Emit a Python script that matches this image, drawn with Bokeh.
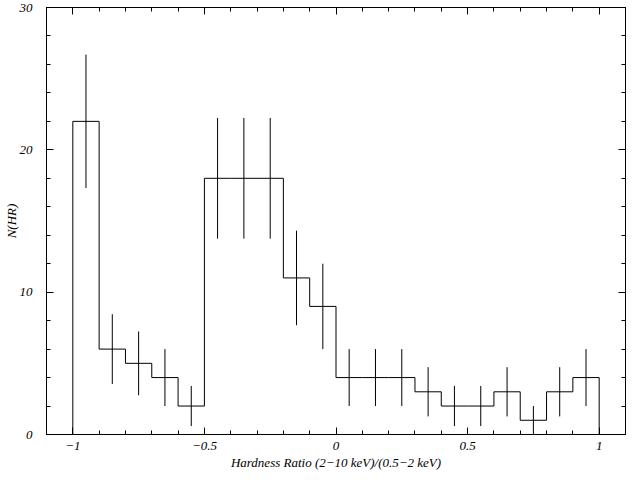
from bokeh.plotting import figure
from bokeh.models import LinearAxis, FixedTicker, Range1d, CustomJSTickFormatter
from bokeh.embed import file_html
from bokeh.resources import INLINE

# Data
hr_centers = [-0.95, -0.85, -0.75, -0.65, -0.55, -0.45, -0.35, -0.25, -0.15, -0.05,
              0.05, 0.15, 0.25, 0.35, 0.45, 0.55, 0.65, 0.75, 0.85, 0.95]
counts = [22, 6, 5, 4, 2, 18, 18, 18, 11, 9, 4, 4, 4, 3, 2, 2, 3, 1, 3, 4]
errors = [4.69, 2.45, 2.24, 2.0, 1.41, 4.24, 4.24, 4.24, 3.32, 3.0,
          2.0, 2.0, 2.0, 1.73, 1.41, 1.41, 1.73, 1.0, 1.73, 2.0]
bin_width = 0.1

x_ticks = [-1, -0.5, 0, 0.5, 1]
x_tick_labels = ["\u22121", "\u22120.5", "0", "0.5", "1"]
x_minor = [round(-1.1 + 0.1 * i, 2) for i in range(23)]
y_ticks = [0, 10, 20, 30]
y_minor = list(range(0, 31, 2))
x_title = "Hardness Ratio (2\u221210 keV)/(0.5\u22122 keV)"
y_title = "N(HR)"

FONT = "Liberation Serif"
FS = "13px"

p = figure(width=626, height=472, output_backend="svg", toolbar_location=None,
           x_range=Range1d(-1.1, 1.1), y_range=Range1d(0, 30),
           min_border_left=39, min_border_right=1, min_border_top=7, min_border_bottom=38,
           x_axis_label=x_title, y_axis_label=y_title)
p.xgrid.visible = False
p.ygrid.visible = False
p.outline_line_color = "black"
p.background_fill_color = "white"
p.border_fill_color = "white"

# step histogram outline built from bin edges
xs = [hr_centers[0] - bin_width / 2]
ys = [0]
for c, n in zip(hr_centers, counts):
    xs += [c - bin_width / 2, c + bin_width / 2]
    ys += [n, n]
xs.append(hr_centers[-1] + bin_width / 2)
ys.append(0)
p.line(xs, ys, line_color="black", line_width=1)

y0 = [n - e for n, e in zip(counts, errors)]
y1 = [n + e for n, e in zip(counts, errors)]
p.segment(x0=hr_centers, y0=y0, x1=hr_centers, y1=y1, line_color="black", line_width=1)

xt = FixedTicker(ticks=x_ticks, minor_ticks=x_minor)
yt = FixedTicker(ticks=y_ticks, minor_ticks=y_minor)

def style(ax):
    ax.axis_line_color = "black"
    ax.major_tick_line_color = "black"
    ax.minor_tick_line_color = "black"
    ax.major_tick_in = 7
    ax.major_tick_out = 0
    ax.minor_tick_in = 4
    ax.minor_tick_out = 0
    ax.major_label_text_font = FONT
    ax.major_label_text_font_style = "italic"
    ax.major_label_text_font_size = FS
    ax.major_label_text_color = "black"
    ax.axis_label_text_font = FONT
    ax.axis_label_text_font_style = "italic"
    ax.axis_label_text_font_size = FS
    ax.axis_label_text_color = "black"

xa = p.xaxis[0]
xa.ticker = xt
xa.major_label_overrides = {t: l for t, l in zip(x_ticks, x_tick_labels)}
style(xa)
xa.major_label_standoff = 7
xa.axis_label_standoff = 2

ya = p.yaxis[0]
ya.ticker = yt
style(ya)
ya.major_label_standoff = 14
ya.axis_label_standoff = -2

blank = CustomJSTickFormatter(code="return ''")
top = LinearAxis(ticker=xt, formatter=blank, major_label_standoff=0)
style(top)
p.add_layout(top, "above")
right = LinearAxis(ticker=yt, formatter=blank, major_label_standoff=0)
style(right)
p.add_layout(right, "right")

open("out.html", "w").write(file_html(p, INLINE))
